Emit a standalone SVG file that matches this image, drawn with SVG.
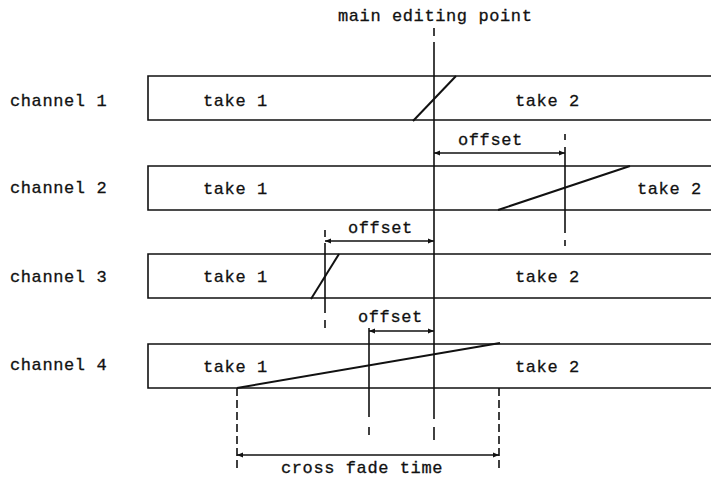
<svg xmlns="http://www.w3.org/2000/svg" width="711" height="479" viewBox="0 0 711 479">
<style>
text{font-family:"Liberation Mono","DejaVu Sans Mono",monospace;font-size:17px;letter-spacing:0.6px;fill:#111;stroke:#111;stroke-width:0.3}
.box{fill:none;stroke:#111;stroke-width:1.6}
.fade{stroke:#111;stroke-width:2;fill:none}
.ln{stroke:#111;stroke-width:1.6;fill:none}
.arr{stroke:#111;stroke-width:1.6;fill:none;marker-start:url(#ah);marker-end:url(#ah)}
</style>
<defs>
<marker id="ah" viewBox="0 0 10 10" refX="10" refY="5" markerWidth="8" markerHeight="6" orient="auto-start-reverse" markerUnits="userSpaceOnUse">
<path d="M0,1 L10,5 L0,9 z" fill="#111"/>
</marker>
</defs>
<g id="title"><text x="338" y="21">main editing point</text></g>
<g id="channel1">
<text x="10" y="106">channel 1</text>
<path class="box" d="M711,76 H148 V120 H711"/>
<text x="203" y="106">take 1</text>
<text x="515" y="106">take 2</text>
<line class="fade" x1="413" y1="121" x2="456" y2="76"/>
</g>
<g id="channel2">
<text x="10" y="193">channel 2</text>
<path class="box" d="M711,166 H148 V210 H711"/>
<text x="203" y="194">take 1</text>
<text x="637" y="194">take 2</text>
<line class="fade" x1="498" y1="210" x2="630" y2="166"/>
</g>
<g id="channel3">
<text x="10" y="282">channel 3</text>
<path class="box" d="M711,254 H148 V298 H711"/>
<text x="203" y="282">take 1</text>
<text x="515" y="282">take 2</text>
<line class="fade" x1="311" y1="299" x2="339" y2="254"/>
</g>
<g id="channel4">
<text x="10" y="370">channel 4</text>
<path class="box" d="M711,344 H148 V388 H711"/>
<text x="203" y="372">take 1</text>
<text x="515" y="372">take 2</text>
<line class="fade" x1="237" y1="388" x2="500" y2="343"/>
</g>
<g id="connectors">
<line class="ln" x1="434" y1="28" x2="434" y2="36"/>
<line class="ln" x1="434" y1="42" x2="434" y2="419"/>
<line class="ln" x1="434" y1="427" x2="434" y2="440"/>
<line class="ln" x1="565" y1="134" x2="565" y2="140"/>
<line class="ln" x1="565" y1="147" x2="565" y2="233"/>
<line class="ln" x1="565" y1="240" x2="565" y2="246"/>
<line class="arr" x1="434" y1="153" x2="565" y2="153"/>
<text x="458" y="145">offset</text>
<line class="ln" x1="325" y1="230" x2="325" y2="237"/>
<line class="ln" x1="325" y1="243" x2="325" y2="313"/>
<line class="ln" x1="325" y1="320" x2="325" y2="328"/>
<line class="arr" x1="325" y1="241" x2="434" y2="241"/>
<text x="348" y="233">offset</text>
<line class="ln" x1="369" y1="328" x2="369" y2="417"/>
<line class="ln" x1="369" y1="427" x2="369" y2="435"/>
<line class="arr" x1="369" y1="331" x2="434" y2="331"/>
<text x="358" y="322">offset</text>
<line class="ln" x1="237" y1="388" x2="237" y2="470" stroke-dasharray="8,4"/>
<line class="ln" x1="499" y1="388" x2="499" y2="470" stroke-dasharray="8,4"/>
<line class="arr" x1="237" y1="455" x2="499" y2="455"/>
<text x="281" y="473">cross fade time</text>
</g>
</svg>
